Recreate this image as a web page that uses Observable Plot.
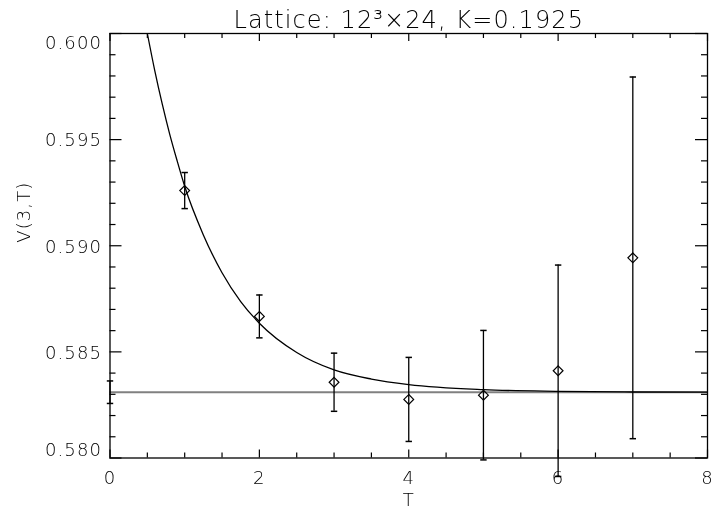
<!DOCTYPE html>
<html>
<head>
<meta charset="utf-8">
<script src="https://cdn.jsdelivr.net/npm/d3@7"></script>
<script src="https://cdn.jsdelivr.net/npm/@observablehq/plot@0.6"></script>
<style>
  html, body { margin: 0; padding: 0; background: #fff; }
  #chart svg { display: block; will-change: transform; }
  #chart text { letter-spacing: 1.1px; }
</style>
</head>
<body>
<div id="chart"></div>
<script>
// Measured potential V(3,T) versus time separation T
const T = [1, 2, 3, 4, 5, 6, 7];
const V = [0.59260, 0.58667, 0.58357, 0.58276, 0.58296, 0.58411, 0.58943];
const dV = [0.00085, 0.00101, 0.00137, 0.00198, 0.00305, 0.00498, 0.00852];

// Plateau value and its error (drawn at T = 0)
const plateau = 0.58310;
const plateauErr = 0.00053;

// Fitted curve, sampled along T
const fitT = [0.5, 0.6, 0.7, 0.8, 0.9, 1.0, 1.25, 1.5, 1.75, 2.0, 2.5, 3.0, 3.5, 4.0, 5.0, 6.0, 7.0, 8.0];
const fitV = [0.60000, 0.59824, 0.59667, 0.59525, 0.59399, 0.59280, 0.59051, 0.58873, 0.58737,
              0.58635, 0.58497, 0.58415, 0.58372, 0.58346, 0.58322, 0.58314, 0.58311, 0.58310];

// Axis ticks and labels
const xMajor = [0, 2, 4, 6, 8];
const xMinor = [0.5, 1, 1.5, 2.5, 3, 3.5, 4.5, 5, 5.5, 6.5, 7, 7.5];
const yMajor = [0.580, 0.585, 0.590, 0.595, 0.600];
const yMinor = [0.581, 0.582, 0.583, 0.584, 0.586, 0.587, 0.588, 0.589,
                0.591, 0.592, 0.593, 0.594, 0.596, 0.597, 0.598, 0.599];
const xLabels = ["0", "2", "4", "6", "8"];
const yLabels = ["0.580", "0.585", "0.590", "0.595", "0.600"];

const title = "Lattice: 12\u00B3\u00D724, K=0.1925";
const xTitle = "T";
const yTitle = "V(3,T)";

const points = T.map((t, i) => ({T: t, V: V[i], lo: V[i] - dV[i], hi: V[i] + dV[i]}));
const bars = [...points, {T: 0, V: plateau, lo: plateau - plateauErr, hi: plateau + plateauErr}];
const fit = fitT.map((t, i) => ({T: t, V: fitV[i]}));
const yTickData = yMajor.map((v, i) => ({v, label: yLabels[i]}));

// short horizontal bar used for error-bar caps
const capSymbol = {
  draw(context, size) {
    const w = Math.sqrt(size / Math.PI);
    context.moveTo(-w, 0);
    context.lineTo(w, 0);
  }
};

const W = 713, H = 512;
const mL = 109.5, mR = 6, mT = 33, mB = 54.5;
const fw = W - mL - mR, fh = H - mT - mB;
const font = "'DejaVu Sans', sans-serif";
const ink = "#000";
const fs = 18;

const plot = Plot.plot({
  width: W,
  height: H,
  marginLeft: mL,
  marginRight: mR,
  marginTop: mT,
  marginBottom: mB,
  x: {domain: [0, 8], axis: null},
  y: {domain: [0.580, 0.600], axis: null},
  style: {background: "#fff", fontFamily: font, fontWeight: 200, color: ink},
  marks: [
    // plateau line
    Plot.ruleY([plateau], {stroke: "#808080", strokeWidth: 2}),
    // fitted curve
    Plot.line(fit, {x: "T", y: "V", stroke: ink, strokeWidth: 1.3, curve: "monotone-x", clip: true}),
    // error bars
    Plot.ruleX(bars, {x: "T", y1: "lo", y2: "hi", stroke: ink, strokeWidth: 1.3}),
    Plot.dot(bars, {x: "T", y: "lo", symbol: capSymbol, r: 3.2, stroke: ink, strokeWidth: 1.5}),
    Plot.dot(bars, {x: "T", y: "hi", symbol: capSymbol, r: 3.2, stroke: ink, strokeWidth: 1.5}),
    // data points
    Plot.dot(points, {x: "T", y: "V", symbol: "diamond2", r: 4.4, stroke: ink, fill: "none", strokeWidth: 1.2}),
    // ticks, inward on all four sides
    Plot.tickX(xMajor, {x: d => d, insetTop: fh - 8, stroke: ink, strokeWidth: 1.2}),
    Plot.tickX(xMinor, {x: d => d, insetTop: fh - 5, stroke: ink, strokeWidth: 1.2}),
    Plot.tickX(xMajor, {x: d => d, insetBottom: fh - 8, stroke: ink, strokeWidth: 1.2}),
    Plot.tickX(xMinor, {x: d => d, insetBottom: fh - 5, stroke: ink, strokeWidth: 1.2}),
    Plot.tickY(yMajor, {y: d => d, insetRight: fw - 12, stroke: ink, strokeWidth: 1.2}),
    Plot.tickY(yMinor, {y: d => d, insetRight: fw - 6, stroke: ink, strokeWidth: 1.2}),
    Plot.tickY(yMajor, {y: d => d, insetLeft: fw - 12, stroke: ink, strokeWidth: 1.2}),
    Plot.tickY(yMinor, {y: d => d, insetLeft: fw - 6, stroke: ink, strokeWidth: 1.2}),
    Plot.frame({stroke: ink, strokeWidth: 1.3}),
    // tick labels
    Plot.text(xMajor, {x: d => d, text: (d, i) => xLabels[i], frameAnchor: "bottom", lineAnchor: "top",
      dy: 13, fontSize: fs, fill: ink}),
    Plot.text(yTickData.filter(d => d.v > 0.5801 && d.v < 0.5999), {y: "v", text: "label", frameAnchor: "left",
      textAnchor: "end", lineAnchor: "middle", dx: -8, dy: 1, fontSize: fs, fill: ink}),
    Plot.text(yTickData.filter(d => d.v >= 0.5999), {y: "v", text: "label", frameAnchor: "left",
      textAnchor: "end", lineAnchor: "middle", dx: -8, dy: 10, fontSize: fs, fill: ink}),
    Plot.text(yTickData.filter(d => d.v <= 0.5801), {y: "v", text: "label", frameAnchor: "left",
      textAnchor: "end", lineAnchor: "middle", dx: -8, dy: -7.5, fontSize: fs, fill: ink}),
    // axis titles and chart title
    Plot.text([xTitle], {frameAnchor: "bottom", lineAnchor: "top", dy: 35.5, fontSize: fs, fill: ink}),
    Plot.text([yTitle], {frameAnchor: "left", lineAnchor: "middle", rotate: -90, dx: -86, dy: -3,
      fontSize: fs, fill: ink}),
    Plot.text([title], {frameAnchor: "top", lineAnchor: "bottom", dy: -6, fontSize: 24, fill: ink})
  ]
});

document.getElementById("chart").appendChild(plot);
</script>
</body>
</html>
